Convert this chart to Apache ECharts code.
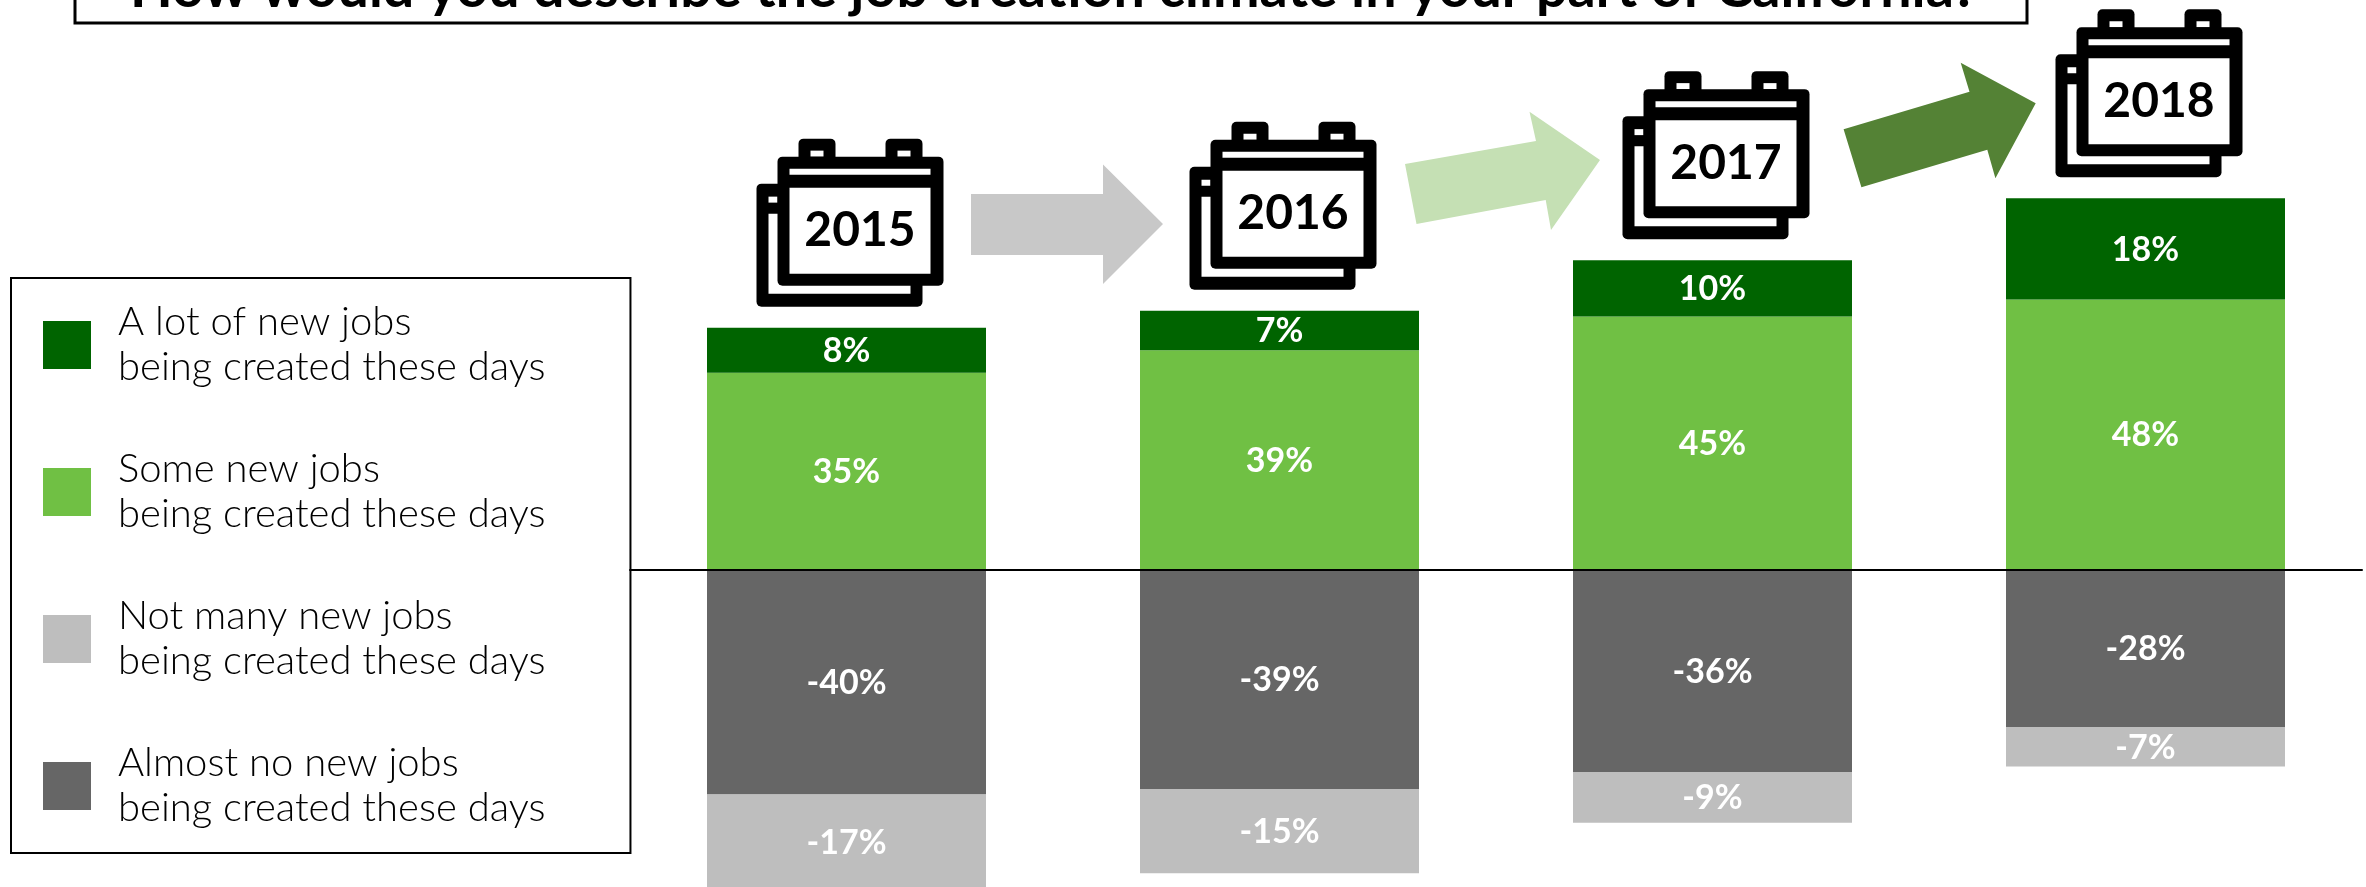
<!DOCTYPE html>
<html>
<head>
<meta charset="utf-8">
<title>Job creation climate</title>
<script src="https://cdn.jsdelivr.net/npm/echarts@6/dist/echarts.min.js"></script>
<style>
  html, body { margin: 0; padding: 0; background: #fff; }
  #chart { width: 2366px; height: 887px; }
</style>
</head>
<body>
<div id="chart"></div>
<script>
// Chart data
const years = ['2015', '2016', '2017', '2018'];
const aLot = [8, 7, 10, 18];
const some = [35, 39, 45, 48];
const almostNo = [-40, -39, -36, -28];
const notMany = [-17, -15, -9, -7];
const totalsUp = [43, 46, 55, 66];

const titleText = 'How would you describe the job creation climate in your part of California?';
const nameLot = 'A lot of new jobs';
const nameSome = 'Some new jobs';
const nameNotMany = 'Not many new jobs';
const nameAlmostNo = 'Almost no new jobs';

const font = 'Lato, sans-serif';

const chart = echarts.init(document.getElementById('chart'));

// Calendar icon, drawn relative to the top of each bar
function renderCalendar(params, api) {
  const p = api.coord([api.value(0), api.value(1)]);
  const x = p[0], y = p[1];
  const black = { fill: '#000' };
  const white = { fill: '#fff' };
  const r = (l, t, w, h, style, radius) => ({
    type: 'rect',
    shape: { x: x + l, y: y + t, width: w, height: h, r: radius || 0 },
    style: style
  });
  return {
    type: 'group',
    children: [
      // back sheet
      r(-90, -144, 166, 123, black, 5),
      r(-78, -114, 142, 80, white),
      r(-78, -131, 9, 6, white),
      // rings
      r(-48, -189, 37, 24, black, 5),
      r(39, -189, 37, 24, black, 5),
      r(-36, -177, 13, 6, white),
      r(51, -177, 13, 6, white),
      // front sheet
      r(-69, -171, 166, 129, black, 5),
      r(-57, -159, 141, 6, white),
      r(-57, -140, 141, 86, white),
      {
        type: 'text',
        style: {
          x: x + 13.5, y: y - 97, text: years[params.dataIndex],
          fill: '#000', font: 'bold 48px ' + font,
          align: 'center', verticalAlign: 'middle'
        }
      }
    ]
  };
}

function barLabel() {
  return {
    show: true,
    position: 'inside',
    offset: [0, 1],
    color: '#fff',
    fontFamily: font,
    fontWeight: 'bold',
    fontSize: 34,
    formatter: p => p.value + '%'
  };
}

function stackBar(name, values, color) {
  return {
    name: name,
    type: 'bar',
    stack: 'all',
    data: values,
    barWidth: 279,
    itemStyle: { color: color },
    label: barLabel(),
    animation: false
  };
}

// Legend names have a shared second line
const secondLine = '\nbeing created these days';

chart.setOption({
  animation: false,
  backgroundColor: '#fff',
  title: {
    text: titleText,
    left: 1049,
    top: -44,
    textAlign: 'center',
    textStyle: { fontFamily: font, fontWeight: 'bold', fontSize: 55.6, color: '#000' }
  },
  legend: {
    orient: 'vertical',
    left: 11,
    top: 278,
    data: [nameLot, nameSome, nameNotMany, nameAlmostNo],
    icon: 'rect',
    itemWidth: 48,
    itemHeight: 48,
    itemGap: 55,
    selectedMode: false,
    padding: [21, 85, 21, 32],
    borderColor: '#000',
    borderWidth: 2,
    backgroundColor: '#fff',
    formatter: name => name + secondLine,
    textStyle: {
      fontFamily: font, fontWeight: 300, fontSize: 40, lineHeight: 45, color: '#000',
      padding: [2, 0, 0, 22]
    }
  },
  grid: { left: 630, width: 1732, top: 7, height: 900, outerBoundsMode: 'none', containLabel: false },
  xAxis: {
    type: 'category',
    data: years,
    z: 5,
    axisLine: { onZero: true, lineStyle: { color: '#000', width: 2 } },
    axisTick: { show: false },
    axisLabel: { show: false }
  },
  yAxis: {
    type: 'value',
    min: -60,
    max: 100,
    show: false,
    splitLine: { show: false }
  },
  graphic: [
    // title box, top runs off the canvas
    { type: 'rect', z: -1, shape: { x: 75, y: -10, width: 1952, height: 33 },
      style: { fill: '#fff', stroke: '#000', lineWidth: 3 } },
    // arrows between the calendars
    { type: 'polygon', shape: { points: [[971, 194], [1103, 194], [1103, 164.5], [1163, 224], [1103, 284], [1103, 255], [971, 255]] },
      style: { fill: '#C8C8C8' } },
    { type: 'polygon', shape: { points: [[1405, 164], [1536, 141], [1529.5, 111.7], [1600, 160], [1551, 230], [1545.7, 200], [1416.5, 224]] },
      style: { fill: '#C5E0B4' } },
    { type: 'polygon', shape: { points: [[1843.6, 129.3], [1969.5, 91.7], [1960.7, 62.7], [2035.7, 103.3], [1995.4, 178.3], [1987.3, 149.7], [1861.4, 187.3]] },
      style: { fill: '#548235' } }
  ],
  series: [
    stackBar(nameSome, some, '#70C044'),
    stackBar(nameLot, aLot, '#006400'),
    stackBar(nameAlmostNo, almostNo, '#666666'),
    stackBar(nameNotMany, notMany, '#BEBEBE'),
    {
      type: 'custom',
      data: years.map((y, i) => [i, totalsUp[i]]),
      renderItem: renderCalendar,
      silent: true,
      clip: false,
      z: 6
    }
  ]
});
</script>
</body>
</html>
